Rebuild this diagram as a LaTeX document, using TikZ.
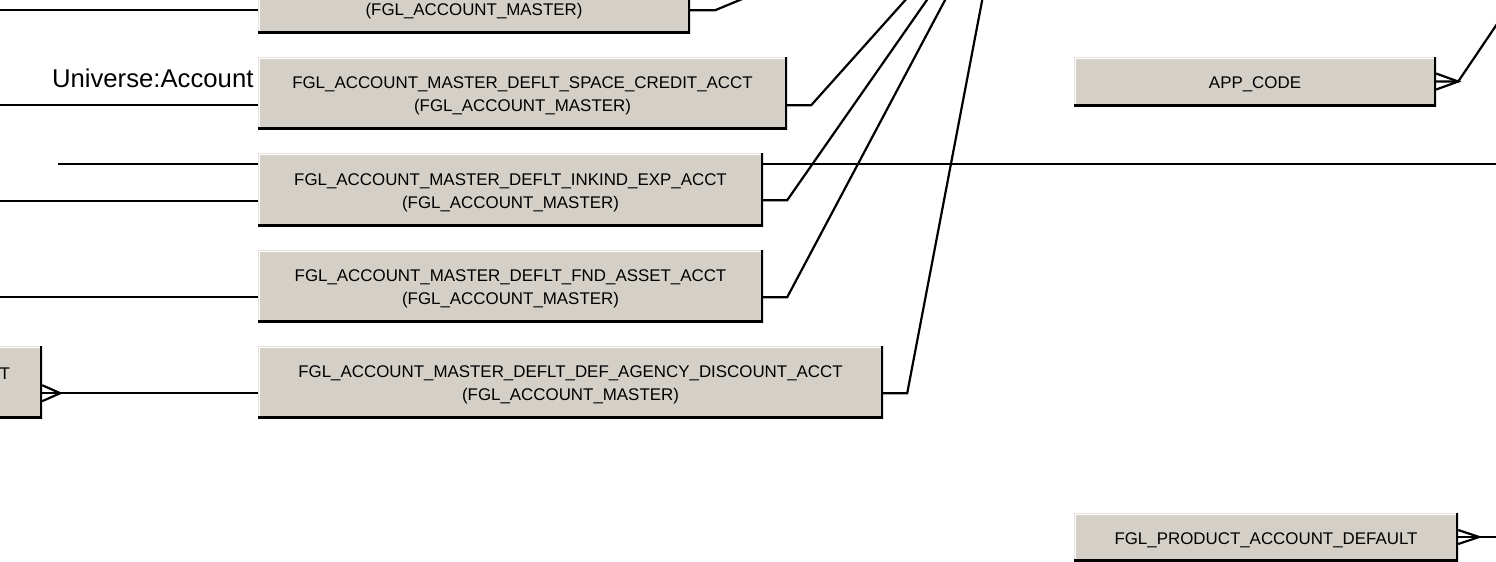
\documentclass[tikz,border=0pt]{standalone}
\usepackage{fontspec}
\setmainfont{Liberation Sans}
\usetikzlibrary{positioning}

\definecolor{boxgray}{HTML}{D4D0C8}
\definecolor{boxedge}{HTML}{E4E1DB}
\newcommand{\hgap}{\rule{0pt}{18pt}}

\tikzset{
  entity/.style={rectangle, fill=boxgray, align=center, inner sep=0pt,
    font=\fontsize{16.9}{23}\selectfont,
    path picture={
      \draw[boxedge, line width=2pt] (path picture bounding box.south west) -- (path picture bounding box.north west) -- (path picture bounding box.north east);
      \draw[white, line width=1pt] ([xshift=1.8pt]path picture bounding box.south west) -- ([xshift=1.8pt,yshift=-1.8pt]path picture bounding box.north west) -- ([yshift=-1.8pt]path picture bounding box.north east);
      \draw[black, line width=4pt] (path picture bounding box.north east) -- (path picture bounding box.south east) -- (path picture bounding box.south west);
    }},
  conn/.style={line width=2.2pt, black}
}

\begin{document}
\begin{tikzpicture}[x=1pt,y=-1pt]
\useasboundingbox (0,0) rectangle (1496,562);
\clip (0,0) rectangle (1496,562);

% ends outside the picture
\coordinate (acctmaster) at (1003,-109);
\coordinate (busstart) at (58,164);
\coordinate (busend) at (1510,164);
\coordinate (appline) at (1520,-10);

\draw[conn] (busstart) -- (busend);

% entities
\node[entity, minimum width=432pt, minimum height=72pt] (masterbox) at (474,-3) {\hgap\\(FGL\_ACCOUNT\_MASTER)};
\node[entity, minimum width=529pt, minimum height=72pt] (spacecredit) at (522.5,93) {\hgap FGL\_ACCOUNT\_MASTER\_DEFLT\_SPACE\_CREDIT\_ACCT\\(FGL\_ACCOUNT\_MASTER)};
\node[entity, minimum width=505pt, minimum height=73pt] (inkind) at (510.5,189.5) {\hgap FGL\_ACCOUNT\_MASTER\_DEFLT\_INKIND\_EXP\_ACCT\\(FGL\_ACCOUNT\_MASTER)};
\node[entity, minimum width=505pt, minimum height=72pt] (fndasset) at (510.5,286) {\hgap FGL\_ACCOUNT\_MASTER\_DEFLT\_FND\_ASSET\_ACCT\\(FGL\_ACCOUNT\_MASTER)};
\node[entity, minimum width=625pt, minimum height=72pt] (agencydisc) at (570.5,382) {\hgap FGL\_ACCOUNT\_MASTER\_DEFLT\_DEF\_AGENCY\_DISCOUNT\_ACCT\\(FGL\_ACCOUNT\_MASTER)};
\node[entity, minimum width=200pt, minimum height=72pt, text width=136pt, align=right] (leftbox) at (-58,382) {\hgap T\\\mbox{}};
\node[entity, minimum width=362pt, minimum height=49pt] (appcode) at (1255,81.5) {\hgap APP\_CODE};
\node[entity, minimum width=384pt, minimum height=48pt] (prodacct) at (1266,537) {\hgap FGL\_PRODUCT\_ACCOUNT\_DEFAULT};

\node[anchor=base east, font=\fontsize{25.7}{30}\selectfont] (univ) at (257,87) {Universe:Account};

% lines to the left
\draw[conn] ([yshift=23pt]masterbox.south west) -- +(-300,0);
\draw[conn] ([yshift=24pt]spacecredit.south west) -- +(-300,0);
\draw[conn] ([yshift=25pt]inkind.south west) -- +(-300,0);
\draw[conn] ([yshift=25pt]fndasset.south west) -- +(-300,0);

% lines to the master table above
\draw[conn] ([yshift=23pt]masterbox.south east) -- ++(25,0) -- (acctmaster);
\draw[conn] ([yshift=24pt]spacecredit.south east) -- ++(24,0) -- (acctmaster);
\draw[conn] ([yshift=26pt]inkind.south east) -- ++(24,0) -- (acctmaster);
\draw[conn] ([yshift=25pt]fndasset.south east) -- ++(24,0) -- (acctmaster);
\draw[conn] ([yshift=25pt]agencydisc.south east) -- ++(24,0) -- (acctmaster);

% crow's feet
\coordinate (leftfoot) at ([xshift=18pt,yshift=25pt]leftbox.south east);
\draw[conn] ([yshift=33pt]leftbox.south east) -- (leftfoot) -- ([yshift=17pt]leftbox.south east);
\draw[conn] ([yshift=25pt]leftbox.south east) -- (leftfoot) -- ([yshift=25pt]agencydisc.south west);

\coordinate (appfoot) at ([xshift=22pt]appcode.east);
\draw[conn] ([yshift=8pt]appcode.east) -- (appfoot) -- ([yshift=-8pt]appcode.east);
\draw[conn] (appcode.east) -- (appfoot) -- (appline);

\coordinate (prodfoot) at ([xshift=21pt]prodacct.east);
\draw[conn] ([yshift=7pt]prodacct.east) -- (prodfoot) -- ([yshift=-7pt]prodacct.east);
\draw[conn] (prodacct.east) -- (prodfoot) -- +(40,0);

\end{tikzpicture}
\end{document}
